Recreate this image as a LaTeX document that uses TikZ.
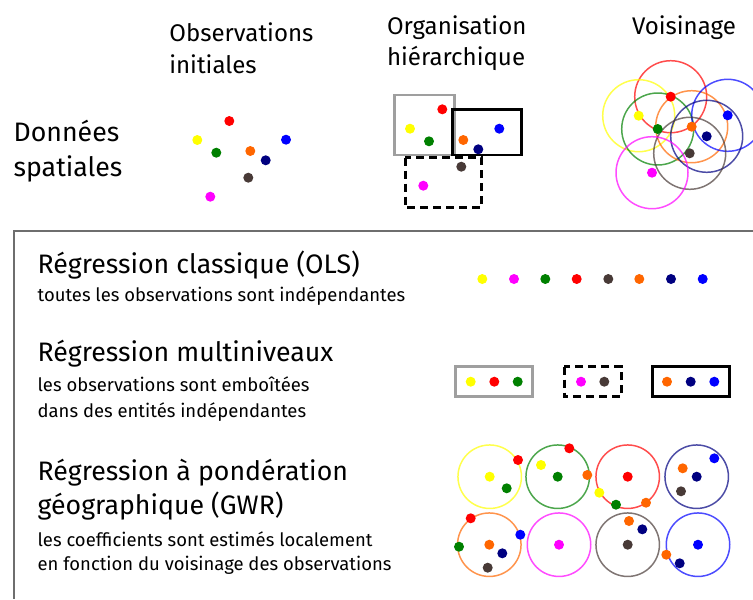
\documentclass[tikz,border=0pt]{standalone}
\usepackage{fontspec}
\setmainfont{Fira Sans}
\usepackage{tikz}
\usetikzlibrary{positioning}

\definecolor{cyel}{RGB}{255,255,0}
\definecolor{cmag}{RGB}{255,0,255}
\definecolor{cgrn}{RGB}{0,128,0}
\definecolor{cred}{RGB}{255,0,0}
\definecolor{cbrn}{RGB}{72,58,55}
\definecolor{corg}{RGB}{255,102,0}
\definecolor{cnav}{RGB}{0,0,128}
\definecolor{cblu}{RGB}{0,0,255}
\definecolor{cframe}{RGB}{110,110,110}

\begin{document}
\begin{tikzpicture}[x=0.02cm,y=-0.02cm,
    dot/.style={circle,fill=#1,inner sep=0pt,minimum size=0.2cm},
    ring/.style={circle,draw=#1,draw opacity=0.7,line width=0.85pt,inner sep=0pt,minimum size=1.44cm},
    gring/.style={ring=#1,minimum size=1.27cm},
    head/.style={anchor=base west,inner sep=0pt,font=\fontsize{13.7}{16}\selectfont},
    titre/.style={anchor=base west,inner sep=0pt,font=\fontsize{15.2}{18}\selectfont},
    sous/.style={anchor=base west,inner sep=0pt,font=\fontsize{10.5}{12.5}\selectfont},
    grpgris/.style={draw=gray!75,line width=1.7pt},
    grpnoir/.style={draw=black,line width=1.7pt},
    grptir/.style={draw=black,line width=1.7pt,dash pattern=on 0.16cm off 0.1cm}]
    \useasboundingbox (0,0) rectangle (753,599);

    % en-tetes
    \node[head](hObs) at (169,41.7){Observations};
    \node[head](hIni) at (169,73.3){initiales};
    \node[head](hOrg) at (386.7,34.3){Organisation};
    \node[head](hHie) at (386.7,65){hiérarchique};
    \node[head](hVoi) at (631.7,34.3){Voisinage};
    \node[titre](hDon) at (13.3,141.7){Données};
    \node[titre](hSpa) at (13.3,176.7){spatiales};

    % observations initiales
    \node[dot=cred](iR) at (229.3,121){};
    \node[dot=cyel](iY) at (197.3,140){};
    \node[dot=cblu](iB) at (286,139.7){};
    \node[dot=cgrn](iG) at (216.3,152.7){};
    \node[dot=corg](iO) at (250.3,151){};
    \node[dot=cnav](iN) at (265.7,160.3){};
    \node[dot=cbrn](iBr) at (248.3,177.7){};
    \node[dot=cmag](iM) at (210.3,196.7){};

    % organisation hierarchique
    \draw[grpgris](394,95) rectangle (454,155);
    \draw[grpnoir](452.7,109.3) rectangle (521.7,155);
    \draw[grptir](405,157.7) rectangle (481.7,207.3);
    \node[dot=cred](hR) at (442.3,109.3){};
    \node[dot=cyel](hY) at (410,128.7){};
    \node[dot=cgrn](hG) at (429,141.3){};
    \node[dot=corg](hO) at (463.3,140){};
    \node[dot=cblu](hB) at (499.3,128.7){};
    \node[dot=cnav](hN) at (478.3,149.3){};
    \node[dot=cbrn](hBr) at (461.3,166.7){};
    \node[dot=cmag](hM) at (423.3,185.7){};

    % voisinage
    \node[ring=cred](vRr) at (670.7,96.7){};
    \node[ring=cyel](vYr) at (638.7,115.7){};
    \node[ring=cgrn](vGr) at (657.7,129){};
    \node[ring=corg](vOr) at (691.7,126.7){};
    \node[ring=cblu](vBr) at (727.7,115.3){};
    \node[ring=cnav](vNr) at (706.7,136.3){};
    \node[ring=cbrn](vBrr) at (689.7,153.3){};
    \node[ring=cmag](vMr) at (652,172.7){};
    \node[dot=cred](vR) at (vRr){};
    \node[dot=cyel](vY) at (vYr){};
    \node[dot=cgrn](vG) at (vGr){};
    \node[dot=corg](vO) at (vOr){};
    \node[dot=cblu](vB) at (vBr){};
    \node[dot=cnav](vN) at (vNr){};
    \node[dot=cbrn](vBn) at (vBrr){};
    \node[dot=cmag](vM) at (vMr){};

    % cadre
    \draw[cframe,line width=1.1pt](753,231) -- (14,231) -- (14,599);

    % OLS
    \node[titre](tOls) at (37.3,273.3){Régression classique (OLS)};
    \node[sous](sOls) at (37.3,301.7){toutes les observations sont indépendantes};
    \node[dot=cyel](oY) at (482.3,279){};
    \node[dot=cmag](oM) at (514,279){};
    \node[dot=cgrn](oG) at (545.3,279){};
    \node[dot=cred](oR) at (576.7,279){};
    \node[dot=cbrn](oBr) at (608.3,279){};
    \node[dot=corg](oO) at (639.3,279){};
    \node[dot=cnav](oN) at (671,279){};
    \node[dot=cblu](oB) at (702.7,279){};

    % multiniveaux
    \node[titre](tMul) at (37.3,361.7){Régression multiniveaux};
    \node[sous](sMul1) at (37.3,391.7){les observations sont emboîtées};
    \node[sous](sMul2) at (37.3,417.7){dans des entités indépendantes};
    \draw[grpgris](455.7,366.7) rectangle (532.7,396.7);
    \draw[grptir](564.3,366.7) rectangle (621.7,396.7);
    \draw[grpnoir](652.3,366.7) rectangle (729.3,396.7);
    \node[dot=cyel](mY) at (470.7,381.7){};
    \node[dot=cred](mR) at (494.3,381.7){};
    \node[dot=cgrn](mG) at (517.7,381.7){};
    \node[dot=cmag](mM) at (581,381.7){};
    \node[dot=cbrn](mBr) at (604.3,381.7){};
    \node[dot=corg](mO) at (667,381.7){};
    \node[dot=cnav](mN) at (690.7,381.7){};
    \node[dot=cblu](mB) at (714.3,381.7){};

    % GWR
    \node[titre](tGwr1) at (37.3,480){Régression à pondération};
    \node[titre](tGwr2) at (37.3,514){géographique (GWR)};
    \node[sous](sGwr1) at (37.3,546){les coefficients sont estimés localement};
    \node[sous](sGwr2) at (37.3,570.7){en fonction du voisinage des observations};

    \node[gring=cyel](g1) at (489.7,476.7){};
    \node[dot=cyel](g1Y) at (g1){};
    \node[dot=cred](g1R) at (518,460){};
    \node[dot=cgrn](g1G) at (506.7,488.3){};

    \node[gring=cgrn](g2) at (557.7,476.7){};
    \node[dot=cgrn](g2G) at (g2){};
    \node[dot=cred](g2R) at (569.3,448.3){};
    \node[dot=cyel](g2Y) at (541,465){};
    \node[dot=corg](g2O) at (587.3,475){};

    \node[gring=cred](g3) at (627.7,476.7){};
    \node[dot=cred](g3R) at (g3){};
    \node[dot=cyel](g3Y) at (599.3,492.7){};
    \node[dot=cgrn](g3G) at (616,504.7){};
    \node[dot=corg](g3O) at (646,502.7){};

    \node[gring=cnav](g4) at (696.7,476.7){};
    \node[dot=cnav](g4N) at (g4){};
    \node[dot=corg](g4O) at (682.7,468.3){};
    \node[dot=cblu](g4B) at (714.3,458.3){};
    \node[dot=cbrn](g4Br) at (681,491.3){};

    \node[gring=corg](g5) at (489.3,544.7){};
    \node[dot=corg](g5O) at (g5){};
    \node[dot=cred](g5R) at (470.7,518.3){};
    \node[dot=cblu](g5B) at (520.3,534.7){};
    \node[dot=cgrn](g5G) at (459,546.7){};
    \node[dot=cnav](g5N) at (502.3,553.3){};
    \node[dot=cbrn](g5Br) at (487.7,567.7){};

    \node[gring=cmag](g6) at (559,544.7){};
    \node[dot=cmag](g6M) at (g6){};

    \node[gring=cbrn](g7) at (627.7,544.7){};
    \node[dot=cbrn](g7Br) at (g7){};
    \node[dot=corg](g7O) at (629,521){};
    \node[dot=cnav](g7N) at (642.3,529.3){};

    \node[gring=cblu](g8) at (698,544.7){};
    \node[dot=cblu](g8B) at (g8){};
    \node[dot=corg](g8O) at (666.3,554.7){};
    \node[dot=cnav](g8N) at (679.7,563.3){};
\end{tikzpicture}
\end{document}
